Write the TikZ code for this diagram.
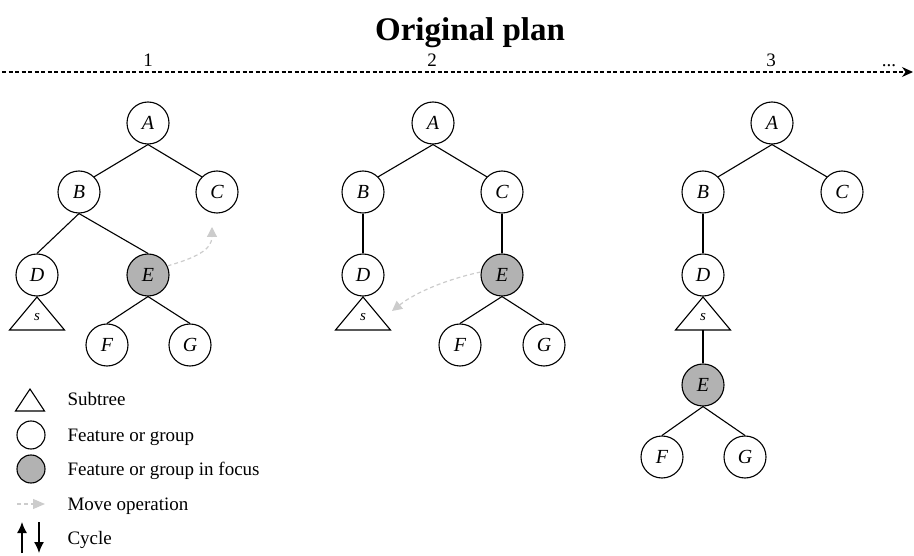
\documentclass[tikz,border=0pt]{standalone}
\usepackage{fontspec}
\setmainfont{Liberation Serif}
\usetikzlibrary{arrows.meta}
\tikzset{
  feat/.style={circle,draw,line width=1.1pt,minimum size=42pt,inner sep=0pt,font=\fontsize{20}{24}\selectfont\itshape},
  focus/.style={feat,fill=black!30},
  edge/.style={line width=1.1pt},
  move/.style={draw=black!20,line width=1.2pt,dash pattern=on 4pt off 3pt,-{Triangle[length=10pt,width=10pt,fill=black!20]}},
  lbl/.style={font=\fontsize{19}{22}\selectfont,anchor=base},
  legtxt/.style={font=\fontsize{19}{22}\selectfont,anchor=base west},
  subtree/.pic={
    \draw[edge] (0,0) -- (-27.5,33) -- (27.5,33) -- cycle;
    \node[font=\fontsize{15}{18}\selectfont\itshape] (-s) at (0,20) {s};
    \coordinate (-base) at (0,33);
  }
}
\begin{document}
\begin{tikzpicture}[x=1pt,y=-1pt]
\useasboundingbox (0,0) rectangle (914,556);

% title and timeline
\node[font=\fontsize{33}{40}\selectfont\bfseries,anchor=base] (title) at (470,41) {Original plan};
\coordinate (tl0) at (2,72);
\coordinate (tl1) at (913,72);
\draw[line width=1.2pt,dash pattern=on 4pt off 2.5pt,-{Stealth[length=11pt,width=10pt]}] (tl0) -- (tl1);
\node[lbl] (s1) at (148,67) {1};
\node[lbl] (s2) at (432,67) {2};
\node[lbl] (s3) at (771,67) {3};
\node[lbl] (s4) at (889,67) {...};

% tree 1
\node[feat] (A1) at (148,123) {A};
\node[feat] (B1) at (79,192) {B};
\node[feat] (C1) at (217,192) {C};
\node[feat] (D1) at (37,275) {D};
\node[focus] (E1) at (148,275) {E};
\node[feat] (F1) at (107,345) {F};
\node[feat] (G1) at (190,345) {G};
\pic (T1) at (37,297) {subtree};
\draw[edge] (A1.south) -- (B1.north east);
\draw[edge] (A1.south) -- (C1.north west);
\draw[edge] (B1.south) -- (D1.north);
\draw[edge] (B1.south) -- (E1.north);
\draw[edge] (E1.south) -- (F1.north);
\draw[edge] (E1.south) -- (G1.north);
\coordinate (m1) at (212,227);
\draw[move] (E1.25) .. controls (195,258) and (212,250) .. (m1);

% tree 2
\node[feat] (A2) at (433,123) {A};
\node[feat] (B2) at (363,192) {B};
\node[feat] (C2) at (502,192) {C};
\node[feat] (D2) at (363,275) {D};
\node[focus] (E2) at (502,275) {E};
\node[feat] (F2) at (460,345) {F};
\node[feat] (G2) at (544,345) {G};
\pic (T2) at (363,297) {subtree};
\draw[edge] (A2.south) -- (B2.north east);
\draw[edge] (A2.south) -- (C2.north west);
\draw[edge] (B2.south) -- (D2.north);
\draw[edge] (C2.south) -- (E2.north);
\draw[edge] (E2.south) -- (F2.north);
\draw[edge] (E2.south) -- (G2.north);
\coordinate (m2) at (392,311);
\draw[move] (E2.172) .. controls (448,279) and (416,292) .. (m2);

% tree 3
\node[feat] (A3) at (772,123) {A};
\node[feat] (B3) at (703,192) {B};
\node[feat] (C3) at (842,192) {C};
\node[feat] (D3) at (703,275) {D};
\node[focus] (E3) at (703,385) {E};
\node[feat] (F3) at (662,457) {F};
\node[feat] (G3) at (745,457) {G};
\pic (T3) at (703,297) {subtree};
\draw[edge] (A3.south) -- (B3.north east);
\draw[edge] (A3.south) -- (C3.north west);
\draw[edge] (B3.south) -- (D3.north);
\draw[edge] (T3-base) -- (E3.north);
\draw[edge] (E3.south) -- (F3.north);
\draw[edge] (E3.south) -- (G3.north);

% legend
\coordinate (lt) at (30,389);
\draw[edge] (lt) -- ++(-14.5,22) -- ++(29,0) -- cycle;
\node[circle,draw,line width=1.1pt,minimum size=28pt,inner sep=0pt] (lc1) at (31,435) {};
\node[circle,draw,line width=1.1pt,minimum size=28pt,inner sep=0pt,fill=black!30] (lc2) at (31,469) {};
\coordinate (lm0) at (17,504);
\coordinate (lm1) at (45,504);
\draw[draw=black!20,line width=1.2pt,dash pattern=on 4pt off 3pt,-{Triangle[length=12pt,width=10pt,fill=black!20]}] (lm0) -- (lm1);
\coordinate (lu0) at (22,553);
\coordinate (lu1) at (22,522);
\coordinate (ld0) at (39,522);
\coordinate (ld1) at (39,553);
\draw[line width=1.3pt,-{Latex[length=11pt,width=10pt]}] (lu0) -- (lu1);
\draw[line width=1.3pt,-{Latex[length=11pt,width=10pt]}] (ld0) -- (ld1);
\node[legtxt] (t1) at (64,406) {Subtree};
\node[legtxt] (t2) at (64,441) {Feature or group};
\node[legtxt] (t3) at (64,475) {Feature or group in focus};
\node[legtxt] (t4) at (64,510) {Move operation};
\node[legtxt] (t5) at (64,544) {Cycle};
\end{tikzpicture}
\end{document}
